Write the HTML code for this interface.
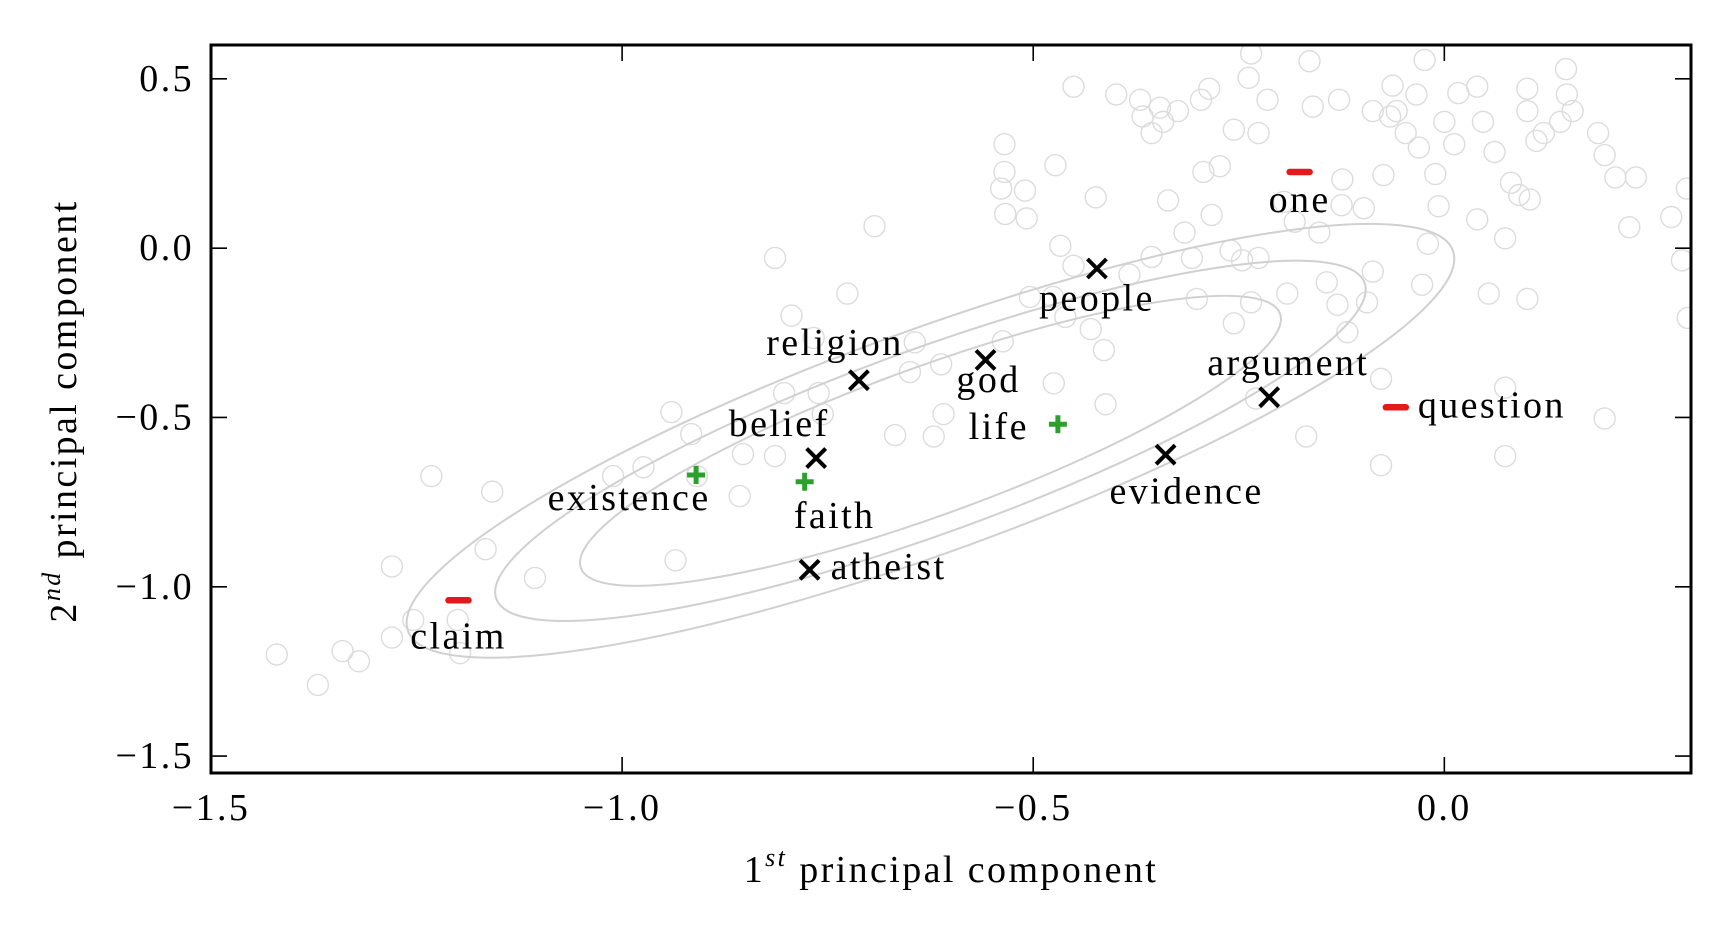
<!DOCTYPE html>
<html><head><meta charset="utf-8"><style>
html,body{margin:0;padding:0;background:#fff;}
svg{display:block;font-family:"Liberation Serif",serif;}
</style></head><body>
<svg id="chart" width="1735" height="933" viewBox="0 0 1735 933" xmlns="http://www.w3.org/2000/svg">
<defs><clipPath id="plotclip"><rect x="211" y="45" width="1480" height="728"/></clipPath></defs>
<g id="bg" clip-path="url(#plotclip)"></g>
<g id="ell" clip-path="url(#plotclip)"></g>
<g id="marks"></g>
<g id="axes"></g>
</svg>
<script>
const bgX=[-1.42,-1.37,-1.34,-1.32,-1.28,-1.28,-1.232,-1.197,-1.166,-1.158,-1.106,-1.254,-1.2,-1.011,-0.974,-0.94,-0.916,-0.935,-0.909,-0.814,-0.794,-0.767,-0.726,-0.803,-0.761,-0.756,-0.693,-0.853,-0.857,-0.814,-0.668,-0.621,-0.644,-0.65,-0.612,-0.609,-0.535,-0.535,-0.534,-0.539,-0.51,-0.508,-0.537,-0.504,-0.473,-0.476,-0.475,-0.451,-0.461,-0.451,-0.43,-0.414,-0.412,-0.424,-0.467,-0.399,-0.37,-0.367,-0.356,-0.346,-0.356,-0.342,-0.324,-0.296,-0.286,-0.293,-0.273,-0.256,-0.238,-0.235,-0.226,-0.226,-0.215,-0.195,-0.182,-0.191,-0.164,-0.16,-0.128,-0.125,-0.152,-0.143,-0.13,-0.124,-0.168,-0.094,-0.087,-0.074,-0.066,-0.063,-0.058,-0.047,-0.034,-0.031,-0.024,-0.02,-0.011,-0.007,0,0.012,0.017,0.04,0.047,0.061,0.074,0.081,0.091,0.101,0.101,0.112,0.121,0.141,0.148,0.149,0.156,0.187,0.195,0.208,0.225,0.233,0.276,0.295,0.296,0.104,0.101,-0.098,-0.087,-0.235,-0.336,-0.246,-0.256,-0.301,-0.283,-0.307,0.074,0.074,0.195,-0.077,-0.229,-0.118,-0.077,-0.316,-0.383,-0.26,-0.027,0.04,0.054,0.289];
const bgY=[-1.2,-1.29,-1.19,-1.22,-0.94,-1.15,-0.673,-1.196,-0.889,-0.719,-0.974,-1.098,-1.098,-0.673,-0.647,-0.484,-0.549,-0.922,-0.673,-0.029,-0.199,-0.265,-0.134,-0.428,-0.428,-0.49,0.065,-0.608,-0.732,-0.614,-0.552,-0.556,-0.278,-0.366,-0.343,-0.49,0.307,0.225,0.101,0.176,0.17,0.088,-0.275,-0.144,0.245,-0.144,-0.399,0.477,-0.203,-0.052,-0.239,-0.301,-0.461,0.15,0.007,0.454,0.438,0.389,0.34,0.415,-0.026,0.373,0.405,0.438,0.471,0.225,0.242,0.35,0.503,0.575,0.34,-0.029,0.438,0.137,0.078,-0.134,0.552,0.418,0.438,0.127,0.046,-0.101,-0.167,0.203,-0.556,-0.16,0.405,0.216,0.389,0.48,0.405,0.34,0.454,0.297,0.556,0.013,0.219,0.124,0.373,0.307,0.458,0.477,0.373,0.284,0.029,0.193,0.157,0.471,0.405,0.317,0.34,0.373,0.529,0.454,0.405,0.34,0.275,0.209,0.062,0.209,0.092,0.176,-0.206,0.144,-0.15,0.118,-0.069,-0.16,0.141,-0.036,-0.222,-0.15,0.098,-0.029,-0.412,-0.614,-0.503,-0.641,-0.444,-0.248,-0.386,0.046,-0.078,-0.007,-0.108,0.085,-0.134,-0.036];
const crossWords=["people","god","religion","belief","atheist","evidence","argument"];
const crossX=[-0.4225,-0.558,-0.712,-0.764,-0.772,-0.339,-0.213];
const crossY=[-0.06,-0.33,-0.39,-0.62,-0.95,-0.61,-0.44];
const plusWords=["existence","faith","life"];
const plusX=[-0.91,-0.778,-0.47];
const plusY=[-0.67,-0.69,-0.52];
const dashWords=["one","question","claim"];
const dashX=[-0.176,-0.059,-1.199];
const dashY=[0.225,-0.47,-1.04];
const contourCenter=[-0.625,-0.569];
const xTicks=[-1.5,-1.0,-0.5,0.0];
const xTickLabels=["−1.5","−1.0","−0.5","0.0"];
const yTicks=[0.5,0.0,-0.5,-1.0,-1.5];
const yTickLabels=["0.5","0.0","−0.5","−1.0","−1.5"];

const L=211,R=1691,T=45,B=773;
const xMin=-1.5,xMax=0.3,yMin=-1.55,yMax=0.6;
const sx=v=>L+(v-xMin)/(xMax-xMin)*(R-L);
const sy=v=>B-(v-yMin)/(yMax-yMin)*(B-T);
const NS="http://www.w3.org/2000/svg";
function mk(tag,attrs,parent){const e=document.createElementNS(NS,tag);for(const k in attrs)e.setAttribute(k,attrs[k]);parent.appendChild(e);return e;}

const bg=document.getElementById('bg');
for(let i=0;i<bgX.length;i++){
 const c=mk('circle',{cx:sx(bgX[i]),cy:sy(bgY[i]),r:10.5,fill:'none',stroke:'#dcdcdc','stroke-width':1.4},bg);
 
 
}
const ell=document.getElementById('ell');
const ecx=sx(contourCenter[0]),ecy=sy(contourCenter[1]);
[[556,111],[462,92],[372,74]].forEach(ab=>{
 const e=mk('ellipse',{cx:ecx,cy:ecy,rx:ab[0],ry:ab[1],fill:'none',stroke:'#d0d0d0','stroke-width':2,transform:`rotate(-20 ${ecx} ${ecy})`},ell);
 
 
});
const marks=document.getElementById('marks');
const FS=38, LS=2.4;
const crossOff={people:[0,30,'middle'],god:[3,20,'middle'],religion:[-24,-37,'middle'],belief:[-37,-34,'middle'],atheist:[21,-3,'start'],evidence:[21,37,'middle'],argument:[19,-34,'middle']};
const plusOff={existence:[-67,23,'middle'],faith:[30,34,'middle'],life:[-29,3,'end']};
const dashOff={one:[0,28,'middle'],question:[22,-2,'start'],claim:[0,36,'middle']};
function label(w,x,y,off){
 const t=mk('text',{x:x+off[0],y:y+off[1],'text-anchor':off[2],'dominant-baseline':'central','font-size':FS,'letter-spacing':LS,fill:'#000'},marks);
 t.textContent=w;
 
 
}
for(let i=0;i<crossWords.length;i++){
 const x=sx(crossX[i]),y=sy(crossY[i]),s=9.5;
 const p=mk('path',{d:`M${x-s},${y-s}L${x+s},${y+s}M${x-s},${y+s}L${x+s},${y-s}`,stroke:'#000','stroke-width':4,fill:'none'},marks);
 
 
 label(crossWords[i],x,y,crossOff[crossWords[i]]);
}
for(let i=0;i<plusWords.length;i++){
 const x=sx(plusX[i]),y=sy(plusY[i]),s=9;
 const p=mk('path',{d:`M${x-s},${y}L${x+s},${y}M${x},${y-s}L${x},${y+s}`,stroke:'#2ca02c','stroke-width':5,fill:'none'},marks);
 
 
 label(plusWords[i],x,y,plusOff[plusWords[i]]);
}
for(let i=0;i<dashWords.length;i++){
 const x=sx(dashX[i]),y=sy(dashY[i]),s=10;
 const p=mk('path',{d:`M${x-s},${y}L${x+s},${y}`,stroke:'#e31a1c','stroke-width':6.5,'stroke-linecap':'round',fill:'none'},marks);
 
 
 label(dashWords[i],x,y,dashOff[dashWords[i]]);
}
const axes=document.getElementById('axes');
for(let i=0;i<xTicks.length;i++){
 const x=sx(xTicks[i]);
 const a=mk('path',{d:`M${x},${B}L${x},${B-16}M${x},${T}L${x},${T+16}`,stroke:'#000','stroke-width':1.6},axes);
 
 
 const t=mk('text',{x:x,y:808,'text-anchor':'middle','dominant-baseline':'central','font-size':FS,'letter-spacing':LS},axes);
 t.textContent=xTickLabels[i];
 
 
}
for(let i=0;i<yTicks.length;i++){
 const y=sy(yTicks[i]);
 const a=mk('path',{d:`M${L},${y}L${L+16},${y}M${R},${y}L${R-16},${y}`,stroke:'#000','stroke-width':1.6},axes);
 
 
 const t=mk('text',{x:194,y:y,'text-anchor':'end','dominant-baseline':'central','font-size':FS,'letter-spacing':LS},axes);
 t.textContent=yTickLabels[i];
 
 
}
const fr=mk('rect',{x:L,y:T,width:R-L,height:B-T,fill:'none',stroke:'#000','stroke-width':3},axes);


const xl=mk('text',{x:951,y:870,'text-anchor':'middle','dominant-baseline':'central','font-size':FS,'letter-spacing':LS},axes);
xl.innerHTML='1<tspan dy="-13" font-size="26" font-style="italic">st</tspan><tspan dy="13"> principal component</tspan>';


const yl=mk('text',{x:0,y:0,'text-anchor':'middle','dominant-baseline':'central','font-size':FS,'letter-spacing':LS,transform:'translate(64,411) rotate(-90)'},axes);
yl.innerHTML='2<tspan dy="-13" font-size="26" font-style="italic">nd</tspan><tspan dy="13"> principal component</tspan>';


</script>
</body></html>
